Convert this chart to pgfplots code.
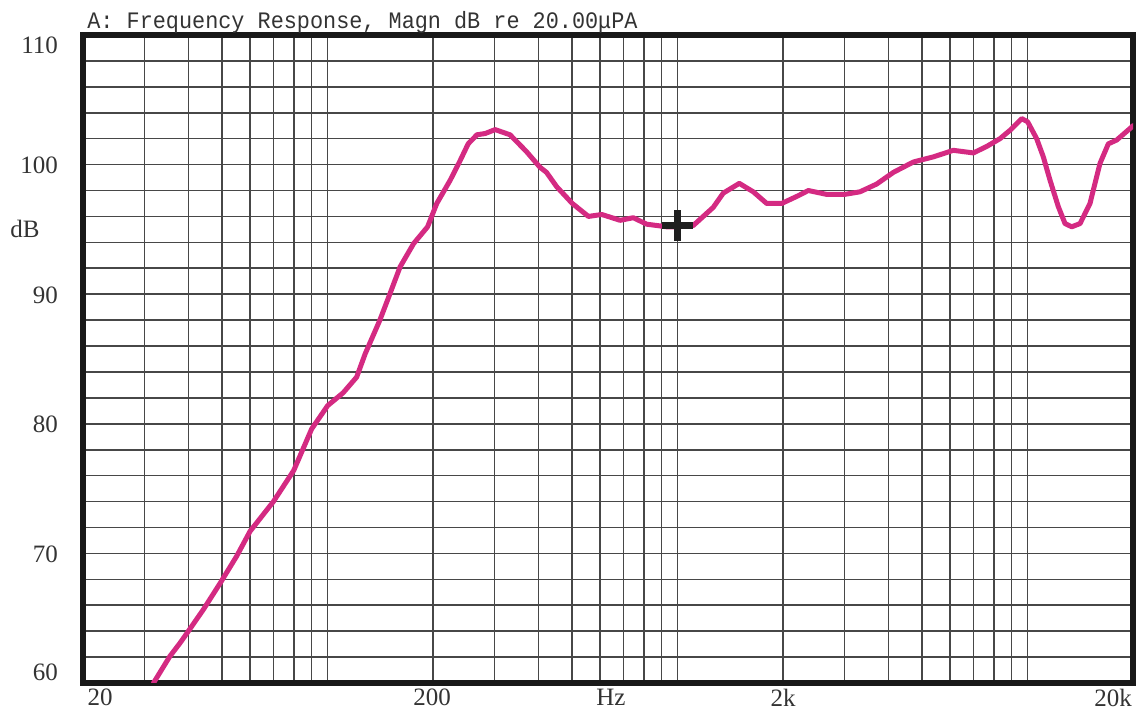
\documentclass[border=0pt]{standalone}
\usepackage{fontspec}
\setmainfont{Liberation Serif}
\newfontfamily\titlefont{Liberation Mono}
\usepackage{graphicx}
\usepackage{pgfplots}
\pgfplotsset{compat=1.18}
\usepackage{pgfplotstable}
\definecolor{curve}{RGB}{212,42,130}

\pgfplotstableread{
f db
31.8 60.0
35.4 62.05
37.9 63.1
40.0 64.0
44.1 65.65
49.3 67.7
55.0 69.8
60.0 71.7
70.0 74.0
80.0 76.4
90.0 79.6
100.0 81.4
110.8 82.4
121.0 83.6
128.0 85.4
141.0 88.0
151.0 90.1
161.0 92.1
176.0 93.9
193.0 95.2
205.0 97.0
224.0 98.8
239.0 100.3
252.0 101.6
267.0 102.3
282.0 102.4
301.0 102.7
332.0 102.3
370.0 101.0
404.0 99.8
422.0 99.4
451.0 98.3
500.0 97.0
556.0 96.0
607.0 96.15
685.0 95.7
747.0 95.9
816.0 95.4
931.0 95.2
1000.0 95.2
1108.0 95.3
1264.0 96.7
1350.0 97.8
1500.0 98.55
1645.0 97.9
1797.0 97.0
1983.0 97.0
2211.0 97.6
2362.0 98.0
2666.0 97.7
3000.0 97.7
3319.0 97.9
3704.0 98.5
4134.0 99.4
4714.0 100.2
5385.0 100.6
6133.0 101.1
7000.0 100.9
7638.0 101.4
8337.0 102.0
8907.0 102.65
9616.0 103.55
10000.0 103.3
10610.0 102.0
11085.0 100.6
11584.0 98.8
12237.0 96.75
12787.0 95.45
13366.0 95.2
14117.0 95.45
15071.0 97.0
16100.0 100.1
17004.0 101.6
17974.0 101.9
19830.0 102.9
20000.0 103.0
}\resp

\begin{document}
\begin{tikzpicture}
\useasboundingbox (-41.5pt,-14pt) rectangle (529.5pt,341.5pt);
\begin{axis}[
  at={(0pt,0pt)}, anchor=south west, scale only axis,
  width=525pt, height=324pt,
  xmode=log, xmin=20, xmax=20000, ymin=60, ymax=110,
  xtick={100,1000,10000},
  minor xtick={30,40,50,60,70,80,90,200,300,400,500,600,700,800,900,2000,3000,4000,5000,6000,7000,8000,9000},
  ytick={60,62,...,110},
  xticklabels={}, yticklabels={},
  major tick length=0pt, minor tick length=0pt,
  grid=both,
  major grid style={black!72, line width=0.8pt},
  minor grid style={black!72, line width=0.8pt},
  axis line style={line width=2.6pt, black!90},
]
\addplot[curve, line width=2.5pt, line join=round, line cap=round] table[x=f, y=db] {\resp};
\addplot[only marks, mark=+, mark size=7.6pt, mark options={line width=3.6pt, black!88}] coordinates {(1000,95.3)};
\end{axis}
\begin{scope}[every node/.style={text=black!80, font=\fontsize{12.5}{14}\selectfont}]
\node[anchor=east] at (-9pt,318.7pt) {110};
\node[anchor=east] at (-9pt,259pt) {100};
\node[anchor=east] at (-9pt,194pt) {90};
\node[anchor=east] at (-9pt,129.5pt) {80};
\node[anchor=east] at (-9pt,64.5pt) {70};
\node[anchor=east] at (-9pt,5.5pt) {60};
\node at (-29pt,227pt) {dB};
\node at (8.5pt,-7.25pt) {20};
\node at (174.5pt,-7.25pt) {200};
\node at (264pt,-7.25pt) {Hz};
\node at (350pt,-7.25pt) {2k};
\node at (515pt,-7.25pt) {20k};
\end{scope}
\node[anchor=base west, inner sep=0pt, text=black!80] at (2pt,327.3pt) {\scalebox{0.925}[1]{\titlefont\fontsize{11.8}{13}\selectfont A: Frequency Response, Magn dB re 20.00μPA}};
\end{tikzpicture}
\end{document}
